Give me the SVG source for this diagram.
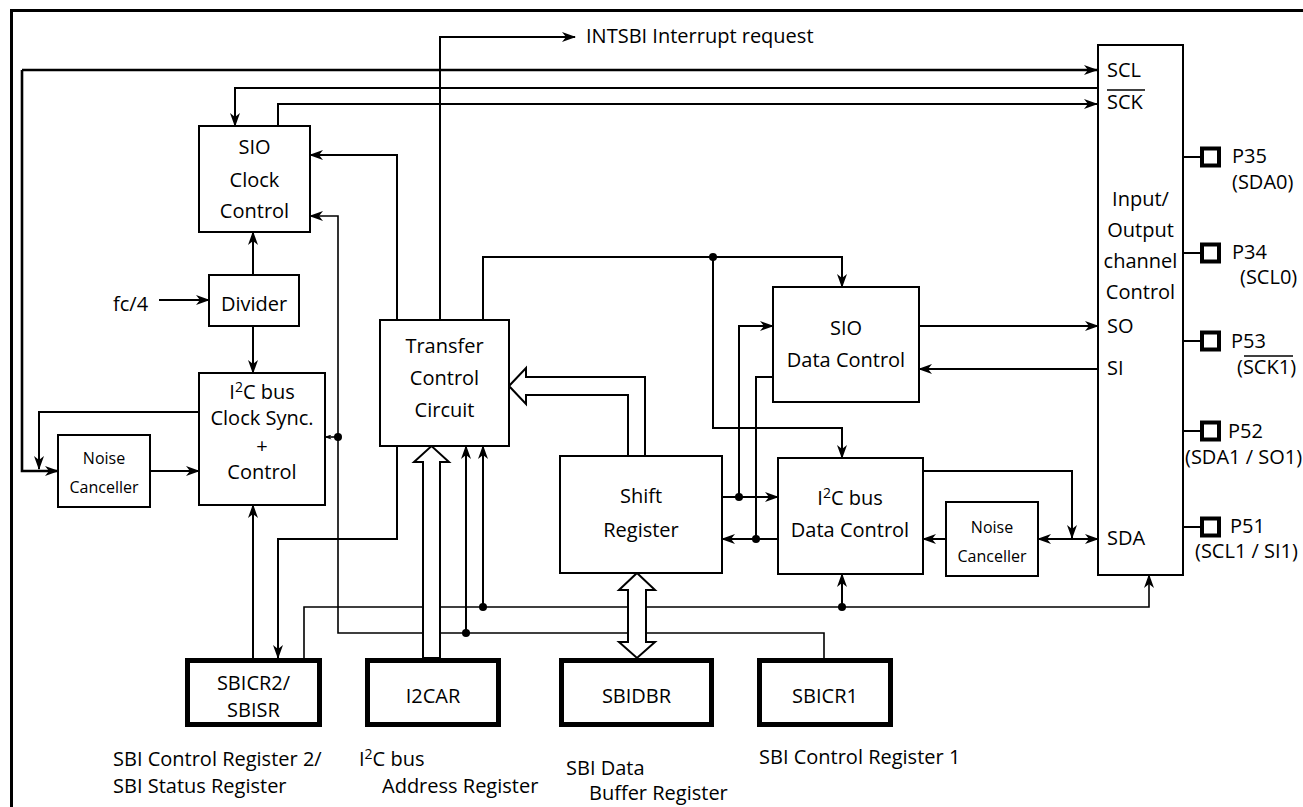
<svg xmlns="http://www.w3.org/2000/svg" width="1303" height="807" viewBox="0 0 1303 807">
<style>
.l{fill:none;stroke:#000;stroke-width:2}
.lt{fill:none;stroke:#000;stroke-width:1.6}
.lk{fill:none;stroke:#000;stroke-width:2.6}
.b{fill:#fff;stroke:#000;stroke-width:2}
.r{fill:#fff;stroke:#000;stroke-width:5}
.h{fill:#fff;stroke:#000;stroke-width:2;stroke-linejoin:miter}
.p{fill:#fff;stroke:#000;stroke-width:4}
.t{font-family:"Open Sans","Liberation Sans",sans-serif;font-size:20px;fill:#000}
.c{text-anchor:middle}
.s{font-size:16px}
.d{fill:#000}
</style>
<defs>
<marker id="a" viewBox="0 0 14 10" refX="13" refY="5" markerWidth="14" markerHeight="10" markerUnits="userSpaceOnUse" orient="auto-start-reverse">
<path d="M0,0 L14,5 L0,10 L4,5 Z" fill="#000"/>
</marker>
<marker id="sm" viewBox="0 0 14 10" refX="13" refY="5" markerWidth="7" markerHeight="5" markerUnits="userSpaceOnUse" orient="auto">
<path d="M0,0 L14,5 L0,10 L4,5 Z" fill="#000"/>
</marker>
</defs>
<rect x="0" y="0" width="1303" height="807" fill="#fff"/>
<rect x="11.5" y="10.5" width="1300" height="805" fill="none" stroke="#000" stroke-width="3"/>

<g id="connectors">
<path class="l" d="M440,320 V37 H575" marker-end="url(#a)"/>
<path class="lk" d="M22,70 H1097" marker-end="url(#a)"/>
<path class="lk" d="M22,70 V471 H58" marker-end="url(#a)"/>
<path class="l" d="M1098,88 H235 V126" marker-end="url(#a)"/>
<path class="l" d="M278,126 V104 H1097" marker-end="url(#a)"/>
<path class="l" d="M253,275 V232" marker-end="url(#a)"/>
<path class="l" d="M159,300 H209" marker-end="url(#a)"/>
<path class="l" d="M253,326 V373" marker-end="url(#a)"/>
<path class="l" d="M199,412 H39 V469" marker-end="url(#a)"/>
<path class="l" d="M150,471 H199" marker-end="url(#a)"/>
<path class="l" d="M397,320 V155 H310" marker-end="url(#a)"/>
<path class="l" d="M397,446 V539 H278 V658" marker-end="url(#a)"/>
<path class="l" d="M253,658 V505" marker-end="url(#a)"/>
<path class="lt" d="M824,658 V633 H338 V216 H310" marker-end="url(#a)"/>
<path class="lt" d="M338,437 H325" marker-end="url(#sm)"/>
<path class="l" d="M466,633 V446" marker-end="url(#a)"/>
<path class="lt" d="M304,658 V607 H1149 V575" marker-end="url(#a)"/>
<path class="l" d="M483,607 V446" marker-end="url(#a)"/>
<path class="l" d="M842,607 V574" marker-end="url(#a)"/>
<path class="l" d="M483,320 V257 H842 V287" marker-end="url(#a)"/>
<path class="l" d="M713,257 V428 H842 V458" marker-end="url(#a)"/>
<path class="l" d="M722,497 H778" marker-end="url(#a)"/>
<path class="l" d="M739,497 V326 H773" marker-end="url(#a)"/>
<path class="l" d="M778,539 H722" marker-end="url(#a)"/>
<path class="l" d="M773,377 H756 V539"/>
<path class="l" d="M919,326 H1098" marker-end="url(#a)"/>
<path class="l" d="M1098,369 H919" marker-end="url(#a)"/>
<path class="l" d="M923,471 H1072 V538" marker-end="url(#a)"/>
<path class="l" d="M1038,539 H1098" marker-start="url(#a)" marker-end="url(#a)"/>
<path class="l" d="M946,539 H923" marker-end="url(#a)"/>
<path class="l" d="M1183,157 H1202 M1183,253 H1202 M1183,341 H1202 M1183,431 H1202 M1183,527 H1202"/>
<circle class="d" cx="338" cy="437" r="4"/>
<circle class="d" cx="466" cy="633" r="4"/>
<circle class="d" cx="483" cy="607" r="4"/>
<circle class="d" cx="842" cy="607" r="4"/>
<circle class="d" cx="713" cy="257" r="4"/>
<circle class="d" cx="739" cy="497" r="4"/>
<circle class="d" cx="756" cy="539" r="4"/>
<polygon class="h" points="423,658 423,462 414,462 431.5,446 449,462 440,462 440,658"/>
<polygon class="h" points="645,456 645,377 526,377 526,368 509,386 526,404 526,395 628,395 628,456"/>
<polygon class="h" points="637,573 655,590 646,590 646,642 655,642 637,658 619,642 628,642 628,590 619,590"/>
</g>

<text class="t" x="586" y="43">INTSBI Interrupt request</text>
<text class="t" x="113" y="311">fc/4</text>

<g id="sio-clock">
<rect class="b" x="199" y="126" width="111" height="106"/>
<text class="t c" x="254.5" y="154">SIO</text>
<text class="t c" x="254.5" y="187">Clock</text>
<text class="t c" x="254.5" y="218">Control</text>
</g>
<g id="divider">
<rect class="b" x="209" y="275" width="90" height="51"/>
<text class="t c" x="254" y="311">Divider</text>
</g>
<g id="i2c-clock">
<rect class="b" x="199" y="373" width="126" height="132"/>
<text class="t c" x="262" y="399">I<tspan font-size="14" dy="-7">2</tspan><tspan dy="7">C bus</tspan></text>
<text class="t c" x="262" y="425">Clock Sync.</text>
<text class="t c" x="262" y="453">+</text>
<text class="t c" x="262" y="479">Control</text>
</g>
<g id="noise-left">
<rect class="b" x="58" y="435" width="92" height="72"/>
<text class="t c s" x="104" y="464">Noise</text>
<text class="t c s" x="104" y="493">Canceller</text>
</g>
<g id="transfer">
<rect class="b" x="380" y="320" width="129" height="126"/>
<text class="t c" x="444.5" y="353">Transfer</text>
<text class="t c" x="444.5" y="385">Control</text>
<text class="t c" x="444.5" y="417">Circuit</text>
</g>
<g id="shift">
<rect class="b" x="560" y="456" width="162" height="117"/>
<text class="t c" x="641" y="503">Shift</text>
<text class="t c" x="641" y="537">Register</text>
</g>
<g id="sio-data">
<rect class="b" x="773" y="287" width="146" height="115"/>
<text class="t c" x="846" y="335">SIO</text>
<text class="t c" x="846" y="367">Data Control</text>
</g>
<g id="i2c-data">
<rect class="b" x="778" y="458" width="145" height="116"/>
<text class="t c" x="850" y="505">I<tspan font-size="14" dy="-7">2</tspan><tspan dy="7">C bus</tspan></text>
<text class="t c" x="850" y="537">Data Control</text>
</g>
<g id="noise-right">
<rect class="b" x="946" y="502" width="92" height="74"/>
<text class="t c s" x="992" y="533">Noise</text>
<text class="t c s" x="992" y="562">Canceller</text>
</g>
<g id="io">
<rect class="b" x="1098" y="45" width="85" height="530"/>
<text class="t" x="1107" y="77">SCL</text>
<text class="t" x="1107" y="109">SCK</text>
<line x1="1107" y1="90" x2="1145" y2="90" stroke="#000" stroke-width="1.5"/>
<text class="t c" x="1140.5" y="206">Input/</text>
<text class="t c" x="1140.5" y="237">Output</text>
<text class="t c" x="1140.5" y="268">channel</text>
<text class="t c" x="1140.5" y="299">Control</text>
<text class="t" x="1107" y="333">SO</text>
<text class="t" x="1107" y="375">SI</text>
<text class="t" x="1107" y="545">SDA</text>
</g>
<g id="pin-p35">
<rect class="p" x="1202" y="148.5" width="17" height="17"/>
<text class="t" x="1232" y="163">P35</text>
<text class="t" x="1232" y="189">(SDA0)</text>
</g>
<g id="pin-p34">
<rect class="p" x="1202" y="244.5" width="17" height="17"/>
<text class="t" x="1232" y="259">P34</text>
<text class="t" x="1240" y="284">(SCL0)</text>
</g>
<g id="pin-p53">
<rect class="p" x="1202" y="332.5" width="17" height="17"/>
<text class="t" x="1231" y="348">P53</text>
<text class="t" x="1237" y="374">(SCK1)</text>
<line x1="1244" y1="356" x2="1293" y2="356" stroke="#000" stroke-width="1.5"/>
</g>
<g id="pin-p52">
<rect class="p" x="1202" y="422.5" width="17" height="17"/>
<text class="t" x="1228" y="438">P52</text>
<text class="t" x="1185" y="464">(SDA1 / SO1)</text>
</g>
<g id="pin-p51">
<rect class="p" x="1202" y="518.5" width="17" height="17"/>
<text class="t" x="1230" y="533">P51</text>
<text class="t" x="1195" y="558">(SCL1 / SI1)</text>
</g>
<g id="sbicr2">
<rect class="r" x="187.5" y="660.5" width="132" height="64"/>
<text class="t c" x="253.5" y="690">SBICR2/</text>
<text class="t c" x="253.5" y="717">SBISR</text>
<text class="t" x="113" y="766">SBI Control Register 2/</text>
<text class="t" x="113" y="793">SBI Status Register</text>
</g>
<g id="i2car">
<rect class="r" x="367.5" y="660.5" width="131" height="64"/>
<text class="t c" x="433" y="703">I2CAR</text>
<text class="t" x="359" y="766">I<tspan font-size="14" dy="-7">2</tspan><tspan dy="7">C bus</tspan></text>
<text class="t" x="382" y="793">Address Register</text>
</g>
<g id="sbidbr">
<rect class="r" x="561.5" y="660.5" width="150" height="64"/>
<text class="t c" x="636.5" y="703">SBIDBR</text>
<text class="t" x="566" y="775">SBI Data</text>
<text class="t" x="589" y="800">Buffer Register</text>
</g>
<g id="sbicr1">
<rect class="r" x="759.5" y="660.5" width="131" height="64"/>
<text class="t c" x="825" y="703">SBICR1</text>
<text class="t" x="759" y="764">SBI Control Register 1</text>
</g>
</svg>
